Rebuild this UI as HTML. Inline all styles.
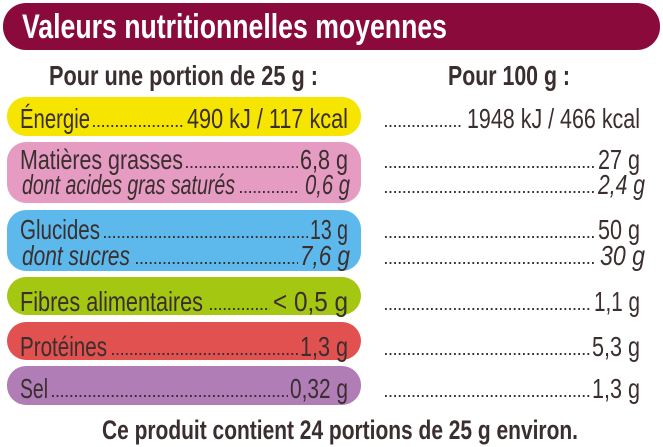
<!DOCTYPE html>
<html><head><meta charset="utf-8"><style>
html,body{margin:0;padding:0;background:#fff;}
svg{display:block}
text{font-family:"Liberation Sans Narrow","Liberation Sans",sans-serif;fill:#3a2e2e;font-size:28px}
.b{font-weight:bold}
.i{font-style:italic}
.d{stroke:#3a2e2e;stroke-width:2;stroke-dasharray:1.8 2.8;stroke-linecap:butt}
</style></head><body>
<svg width="663" height="447" viewBox="0 0 663 447">
<rect x="3" y="3" width="657" height="47" rx="23" fill="#8b0a3c"/>
<text x="22" y="38" class="b" style="fill:#fff;font-size:34px" textLength="425" lengthAdjust="spacingAndGlyphs">Valeurs nutritionnelles moyennes</text>
<text x="49" y="85" class="b" style="font-size:28px" textLength="269" lengthAdjust="spacingAndGlyphs">Pour une portion de 25 g :</text>
<text x="448" y="85" class="b" style="font-size:28px" textLength="122" lengthAdjust="spacingAndGlyphs">Pour 100 g :</text>

<rect x="7" y="97" width="354" height="39" rx="19" fill="#f6e500"/>
<rect x="7" y="142" width="354" height="61" rx="19" fill="#e59bc2"/>
<rect x="7" y="210" width="354" height="61" rx="19" fill="#5db9ec"/>
<rect x="7" y="277" width="354" height="38" rx="19" fill="#a4c812"/>
<rect x="7" y="322" width="354" height="38" rx="19" fill="#e1514f"/>
<rect x="7" y="366" width="354" height="39" rx="19" fill="#b07db6"/>

<text x="20" y="128" textLength="70" lengthAdjust="spacingAndGlyphs">Énergie</text>
<line class="d" x1="93" y1="126" x2="184" y2="126"/>
<text x="348" y="128" text-anchor="end" textLength="161" lengthAdjust="spacingAndGlyphs">490 kJ / 117 kcal</text>

<text x="20" y="169" textLength="163" lengthAdjust="spacingAndGlyphs">Matières grasses</text>
<line class="d" x1="186" y1="167" x2="298" y2="167"/>
<text x="348" y="169" text-anchor="end" textLength="48" lengthAdjust="spacingAndGlyphs">6,8 g</text>
<text x="22" y="194" class="i" textLength="213" lengthAdjust="spacingAndGlyphs">dont acides gras saturés</text>
<line class="d" x1="240" y1="192" x2="298" y2="192"/>
<text x="350" y="194" class="i" text-anchor="end" textLength="45" lengthAdjust="spacingAndGlyphs">0,6 g</text>

<text x="20" y="239" textLength="80" lengthAdjust="spacingAndGlyphs">Glucides</text>
<line class="d" x1="104" y1="237" x2="308" y2="237"/>
<text x="348" y="239" text-anchor="end" textLength="38" lengthAdjust="spacingAndGlyphs">13 g</text>
<text x="22" y="265" class="i" textLength="108" lengthAdjust="spacingAndGlyphs">dont sucres</text>
<line class="d" x1="136" y1="263" x2="298" y2="263"/>
<text x="350" y="265" class="i" text-anchor="end" textLength="50" lengthAdjust="spacingAndGlyphs">7,6 g</text>

<text x="20" y="311" textLength="183" lengthAdjust="spacingAndGlyphs">Fibres alimentaires</text>
<line class="d" x1="210" y1="309" x2="270" y2="309"/>
<text x="348" y="311" text-anchor="end" textLength="75" lengthAdjust="spacingAndGlyphs">&lt; 0,5 g</text>

<text x="20" y="356" textLength="87" lengthAdjust="spacingAndGlyphs">Protéines</text>
<line class="d" x1="112" y1="354" x2="298" y2="354"/>
<text x="348" y="356" text-anchor="end" textLength="48" lengthAdjust="spacingAndGlyphs">1,3 g</text>

<text x="20" y="398" textLength="28" lengthAdjust="spacingAndGlyphs">Sel</text>
<line class="d" x1="52" y1="396" x2="288" y2="396"/>
<text x="348" y="398" text-anchor="end" textLength="58" lengthAdjust="spacingAndGlyphs">0,32 g</text>

<line class="d" x1="385" y1="126" x2="462" y2="126"/>
<text x="640" y="128" text-anchor="end" textLength="173" lengthAdjust="spacingAndGlyphs">1948 kJ / 466 kcal</text>
<line class="d" x1="385" y1="167" x2="596" y2="167"/>
<text x="640" y="169" text-anchor="end" textLength="42" lengthAdjust="spacingAndGlyphs">27 g</text>
<line class="d" x1="385" y1="192" x2="596" y2="192"/>
<text x="645" y="194" class="i" text-anchor="end" textLength="47" lengthAdjust="spacingAndGlyphs">2,4 g</text>
<line class="d" x1="385" y1="237" x2="596" y2="237"/>
<text x="640" y="239" text-anchor="end" textLength="42" lengthAdjust="spacingAndGlyphs">50 g</text>
<line class="d" x1="385" y1="263" x2="596" y2="263"/>
<text x="645" y="265" class="i" text-anchor="end" textLength="45" lengthAdjust="spacingAndGlyphs">30 g</text>
<line class="d" x1="385" y1="309" x2="592" y2="309"/>
<text x="640" y="311" text-anchor="end" textLength="46" lengthAdjust="spacingAndGlyphs">1,1 g</text>
<line class="d" x1="385" y1="354" x2="590" y2="354"/>
<text x="640" y="356" text-anchor="end" textLength="48" lengthAdjust="spacingAndGlyphs">5,3 g</text>
<line class="d" x1="385" y1="396" x2="590" y2="396"/>
<text x="640" y="398" text-anchor="end" textLength="48" lengthAdjust="spacingAndGlyphs">1,3 g</text>

<text x="102" y="439" class="b" style="font-size:27px" textLength="476" lengthAdjust="spacingAndGlyphs">Ce produit contient 24 portions de 25 g environ.</text>
</svg>
</body></html>
